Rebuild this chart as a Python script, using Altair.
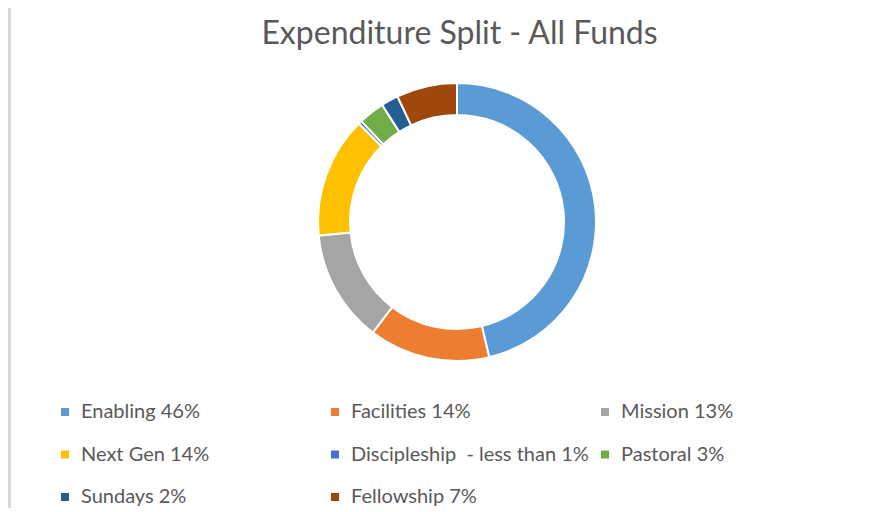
import altair as alt
import pandas as pd

categories = ["Enabling", "Facilities", "Mission", "Next Gen", "Discipleship",
              "Pastoral", "Sundays", "Fellowship"]
labels = ["Enabling 46%", "Facilities 14%", "Mission 13%", "Next Gen 14%",
          "Discipleship\u00a0 - less than 1%", "Pastoral 3%", "Sundays 2%", "Fellowship 7%"]
values = [46, 14, 13, 14, 0.4, 3, 2, 7]
colors = ["#5B9BD5", "#ED7D31", "#A5A5A5", "#FFC000", "#4472C4",
          "#70AD47", "#255E91", "#9E480E"]

df = pd.DataFrame({"label": labels, "value": values, "idx": list(range(len(labels)))})

FONT = "Lato"
TXT = "#595959"

arc = alt.Chart(df).mark_arc(innerRadius=107, outerRadius=139, stroke="white",
                             strokeWidth=2).encode(
    theta=alt.Theta("value:Q", stack=True),
    order=alt.Order("idx:Q"),
    x=alt.value(449),
    y=alt.value(154),
    color=alt.Color(
        "label:N",
        sort=labels,
        scale=alt.Scale(domain=labels, range=colors),
        legend=alt.Legend(
            title=None, orient="none", legendX=47, legendY=334,
            columns=3, direction="horizontal", gridAlign="all",
            columnPadding=6, rowPadding=22.5,
            symbolType="square", symbolSize=64, symbolStrokeWidth=0,
            labelFont=FONT, labelFontSize=20, labelColor=TXT, labelOffset=6,
            labelLimit=400, padding=0,
        ),
    ),
)

border = alt.Chart(df).mark_rule(color="#d9d9d9", strokeWidth=2.5).encode(
    x=alt.value(1.5), y=alt.value(-62), y2=alt.value(444)
)

chart = alt.layer(border, arc).properties(
    width=877, height=440,
    autosize=alt.AutoSizeParams(type="none"),
    padding={"left": 0, "top": 60, "right": 0, "bottom": 0},
    title=alt.TitleParams("Expenditure Split - All Funds", font=FONT, fontSize=32,
                          fontWeight="normal", color=TXT, anchor="middle",
                          dx=13, offset=-46),
).configure_view(stroke=None)

chart.save("out.html", embed_options={"renderer": "svg", "actions": False})
